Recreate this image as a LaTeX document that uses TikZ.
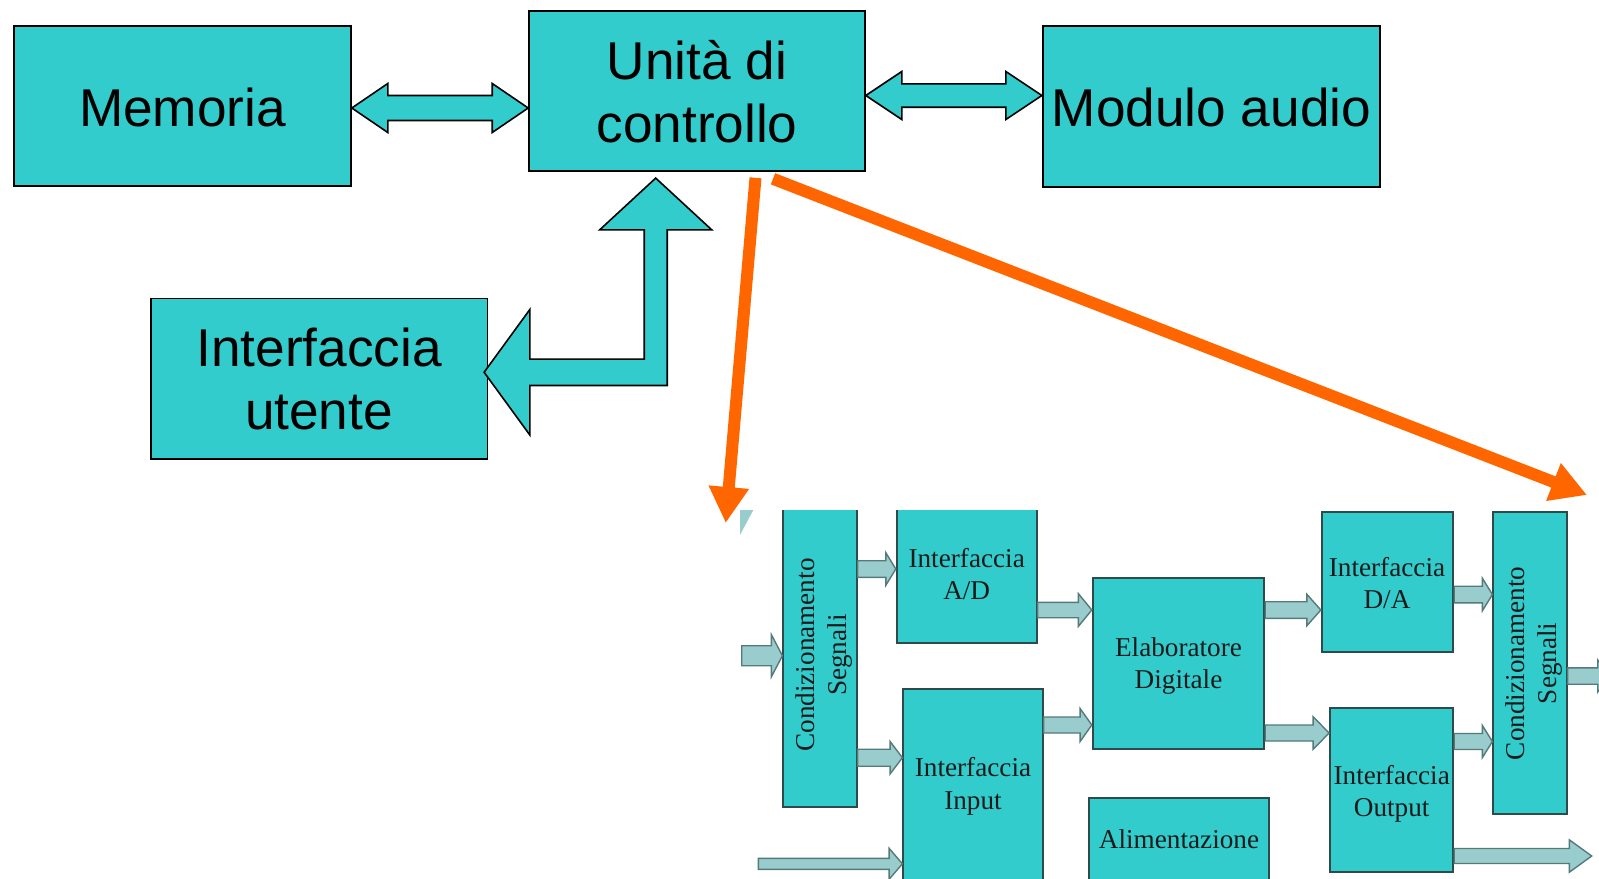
\documentclass[tikz,border=0pt]{standalone}
\usepackage{fontspec}
\setmainfont{Liberation Serif}
\newfontfamily\labelsans{Liberation Sans}
\usetikzlibrary{calc,fit,arrows.meta}

\definecolor{tealbox}{HTML}{33CCCC}
\definecolor{flowfill}{HTML}{99CCCC}
\definecolor{flowline}{HTML}{557A7A}
\definecolor{boxline}{HTML}{2F4A4A}
\definecolor{hot}{HTML}{FF6600}
\definecolor{inktext}{HTML}{1A1A1A}

% single block arrow: #1 source, #2 target, #3 centre y, #4 half shaft, #5 half head, #6 head length
\newcommand\flowlink[6]{%
  \coordinate (fs) at (#1 |- 0,#3);
  \coordinate (ft) at (#2 |- 0,#3);
  \draw[flowshape] ($(fs)+(0,-#4)$) -- ($(ft)+(-#6,-#4)$) -- ($(ft)+(-#6,-#5)$) -- (ft)
    -- ($(ft)+(-#6,#5)$) -- ($(ft)+(-#6,#4)$) -- ($(fs)+(0,#4)$) -- cycle;}

% double-headed block arrow, same arguments
\newcommand\duallink[6]{%
  \coordinate (ds) at (#1 |- 0,#3);
  \coordinate (dt) at (#2 |- 0,#3);
  \draw[bigarrow] (ds) -- ($(ds)+(#6,-#5)$) -- ($(ds)+(#6,-#4)$) -- ($(dt)+(-#6,-#4)$)
    -- ($(dt)+(-#6,-#5)$) -- (dt) -- ($(dt)+(-#6,#5)$) -- ($(dt)+(-#6,#4)$)
    -- ($(ds)+(#6,#4)$) -- ($(ds)+(#6,#5)$) -- cycle;}

\begin{document}
\begin{tikzpicture}[x=0.5pt,y=-0.5pt,
  topbox/.style={draw=black, line width=0.8pt, fill=tealbox, inner sep=0pt},
  toptext/.style={font={\labelsans\fontsize{26.6}{32}\selectfont}, anchor=base, inner sep=0pt},
  subbox/.style={draw=boxline, line width=0.9pt, fill=tealbox, inner sep=0pt},
  subtext/.style={font={\fontsize{13.6}{16}\selectfont}, text=inktext, anchor=base, inner sep=0pt},
  bigarrow/.style={draw=black, line width=0.8pt, fill=tealbox, line join=miter},
  flowshape/.style={draw=flowline, line width=0.7pt, fill=flowfill},
  hotpointer/.style={draw=hot, line width=6pt, -{Triangle[length=18pt,width=19pt]}}]

\useasboundingbox (0,0) rectangle (1599,878);

% ---- system level blocks ----
\node[topbox, fit={(14,25.7) (351,185.7)}] (mem) {};
\node[topbox, fit={(529,11) (865,171)}] (ctrl) {};
\node[topbox, fit={(1042.7,26) (1380,186.7)}] (audio) {};
\node[topbox, fit={(150.7,298.3) (487.3,459)}] (ui) {};

\node[toptext] (memT) at (182.5,126) {Memoria};
\node[toptext] (ctrlT1) at (697,79.3) {Unità di};
\node[toptext] (ctrlT2) at (697,142.7) {controllo};
\node[toptext] (audioT) at (1211.5,126) {Modulo audio};
\node[toptext] (uiT1) at (319,366) {Interfaccia};
\node[toptext] (uiT2) at (319,429.3) {utente};

\duallink{mem.east}{ctrl.west}{108}{12.5}{24.5}{36}
\duallink{ctrl.east}{audio.west}{95.5}{11.7}{24}{36}

% bent two-way arrow between control unit and user interface
\coordinate (bu) at ($(ctrl.south)+(-41.3,6.3)$);
\coordinate (bl) at ($(ui.east)+(-4,-6.4)$);
\coordinate (bc) at (bu |- bl);
\draw[bigarrow] (bu) -- ($(bu)+(56,51.7)$) -- ($(bu)+(11.5,51.7)$) -- ($(bc)+(11.5,13.2)$)
  -- ($(bl)+(45.7,13.2)$) -- ($(bl)+(45.7,62.7)$) -- (bl) -- ($(bl)+(45.7,-62.7)$)
  -- ($(bl)+(45.7,-13.2)$) -- ($(bc)+(-11.5,-13.2)$) -- ($(bu)+(-11.5,51.7)$)
  -- ($(bu)+(-56,51.7)$) -- cycle;

% ---- detail of the control unit ----
\begin{scope}
  \clip (727,510) rectangle (1599,878);
  \fill[flowfill] (740,510) -- (753.3,510) -- (740,535) -- cycle;

  \node[subbox, fit={(783.3,500) (856.7,806.7)}] (condL) {};
  \node[subbox, fit={(896.7,500) (1036.7,642.7)}] (ad) {};
  \node[subbox, fit={(1092.7,577.7) (1264.3,749.3)}] (elab) {};
  \node[subbox, fit={(903.3,689.3) (1042.7,890)}] (inp) {};
  \node[subbox, fit={(1089.3,797.7) (1269,890)}] (alim) {};
  \node[subbox, fit={(1321.7,512.3) (1453.3,651.7)}] (da) {};
  \node[subbox, fit={(1330,708.3) (1453.3,872.3)}] (outp) {};
  \node[subbox, fit={(1493.3,512.3) (1566.7,814.3)}] (condR) {};

  \coordinate (inA) at (741.7,655.7);
  \coordinate (inB) at (758.3,863.8);
  \coordinate (outA) at (1611,676);
  \coordinate (outB) at (1591.7,856);

  \flowlink{inA}{condL.west}{655.7}{10}{21}{11}
  \flowlink{condL.east}{ad.west}{569}{8.3}{16.3}{10}
  \flowlink{ad.east}{elab.west}{610}{7.7}{16.3}{13.4}
  \flowlink{condL.east}{inp.west}{757.7}{8.5}{16.2}{12.3}
  \flowlink{inp.east}{elab.west}{725}{8}{16.5}{11.7}
  \flowlink{inB}{inp.west}{863.8}{5.5}{15.5}{13.3}
  \flowlink{elab.east}{da.west}{610}{8.3}{15.8}{14}
  \flowlink{elab.east}{outp.west}{733}{8}{16.3}{16}
  \flowlink{da.east}{condR.west}{594.5}{8.3}{16.2}{10}
  \flowlink{outp.east}{condR.west}{741.5}{8}{16}{10}
  \flowlink{condR.east}{outA}{676}{8.2}{16}{13.3}
  \flowlink{outp.east}{outB}{856}{7.5}{16.2}{22.4}

  \node[subtext] (adT1) at (966.7,567.3) {Interfaccia};
  \node[subtext] (adT2) at (966.7,599) {A/D};
  \node[subtext] (inpT1) at (973,776.7) {Interfaccia};
  \node[subtext] (inpT2) at (973,809.3) {Input};
  \node[subtext] (elabT1) at (1178.5,656.7) {Elaboratore};
  \node[subtext] (elabT2) at (1178.5,688.3) {Digitale};
  \node[subtext] (daT1) at (1387,576) {Interfaccia};
  \node[subtext] (daT2) at (1387,608.3) {D/A};
  \node[subtext] (outT1) at (1391.7,784) {Interfaccia};
  \node[subtext] (outT2) at (1391.7,816.7) {Output};
  \node[subtext] (alimT) at (1179,848.3) {Alimentazione};
  \node[subtext, rotate=90] (condLT1) at (814.3,655) {Condizionamento};
  \node[subtext, rotate=90] (condLT2) at (846.7,655) {Segnali};
  \node[subtext, rotate=90] (condRT1) at (1524,663.3) {Condizionamento};
  \node[subtext, rotate=90] (condRT2) at (1556.7,663.3) {Segnali};
\end{scope}

% ---- zoom pointers from the control unit to its detail ----
\coordinate (zl) at (725.7,523);
\coordinate (zr) at (1587,495);
\draw[hotpointer] ($(ctrl.south)+(58.5,6)$) -- (zl);
\draw[hotpointer] ($(ctrl.south)+(76,7)$) -- (zr);

\end{tikzpicture}
\end{document}
